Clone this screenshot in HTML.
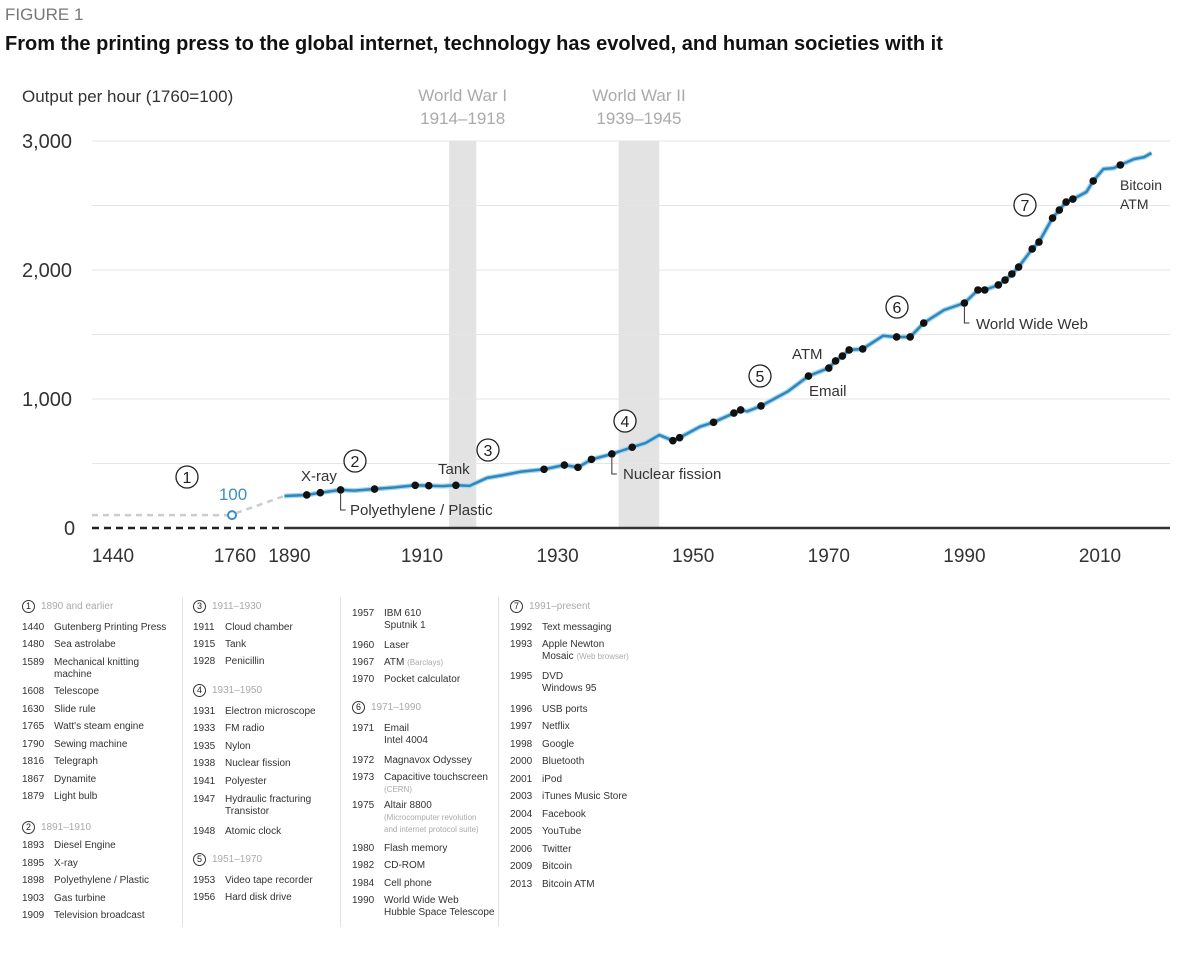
<!DOCTYPE html>
<html><head><meta charset="utf-8">
<style>
body{margin:0;background:#fff;font-family:"Liberation Sans",sans-serif;}
#wrap{position:relative;width:1200px;height:953px;overflow:hidden;background:#fff;}
.t{position:absolute;white-space:nowrap;}
.col{position:absolute;top:0;}
.r{position:absolute;font-size:10px;color:#333;white-space:nowrap;line-height:12px;}
.r .y{display:inline-block;width:32px;}
.r .n{position:absolute;left:32px;top:0;}
.g{color:#aaa;font-size:8px;}
.h{position:absolute;font-size:10px;color:#aaa;white-space:nowrap;line-height:14px;}
.h .c{display:inline-block;width:11px;height:11px;border:1px solid #333;border-radius:50%;color:#222;font-size:9px;text-align:center;line-height:11px;margin-right:6px;vertical-align:middle;}
.sep{position:absolute;width:1px;background:#e2e2e2;top:597px;height:330px;}
</style></head><body>
<div id="wrap">
<div class="t" style="left:5px;top:5px;font-size:17px;color:#777;">FIGURE 1</div>
<div class="t" style="left:5px;top:33px;font-size:20px;font-weight:bold;color:#111;">From the printing press to the global internet, technology has evolved, and human societies with it</div>
<svg id="chart" width="1200" height="590" style="position:absolute;left:0;top:0"></svg>

<div class="sep" style="left:182px"></div>
<div class="sep" style="left:340px"></div>
<div class="sep" style="left:498px"></div>

<div class="col" style="left:22px">
<div class="h" style="top:600px"><span class="c">1</span>1890 and earlier</div>
<div class="r" style="top:622px"><span class="y">1440</span><span class="n">Gutenberg Printing Press</span></div>
<div class="r" style="top:639px"><span class="y">1480</span><span class="n">Sea astrolabe</span></div>
<div class="r" style="top:657px"><span class="y">1589</span><span class="n">Mechanical knitting<br>machine</span></div>
<div class="r" style="top:686px"><span class="y">1608</span><span class="n">Telescope</span></div>
<div class="r" style="top:704px"><span class="y">1630</span><span class="n">Slide rule</span></div>
<div class="r" style="top:721px"><span class="y">1765</span><span class="n">Watt's steam engine</span></div>
<div class="r" style="top:739px"><span class="y">1790</span><span class="n">Sewing machine</span></div>
<div class="r" style="top:756px"><span class="y">1816</span><span class="n">Telegraph</span></div>
<div class="r" style="top:774px"><span class="y">1867</span><span class="n">Dynamite</span></div>
<div class="r" style="top:791px"><span class="y">1879</span><span class="n">Light bulb</span></div>
<div class="h" style="top:821px"><span class="c">2</span>1891–1910</div>
<div class="r" style="top:840px"><span class="y">1893</span><span class="n">Diesel Engine</span></div>
<div class="r" style="top:858px"><span class="y">1895</span><span class="n">X-ray</span></div>
<div class="r" style="top:875px"><span class="y">1898</span><span class="n">Polyethylene / Plastic</span></div>
<div class="r" style="top:893px"><span class="y">1903</span><span class="n">Gas turbine</span></div>
<div class="r" style="top:910px"><span class="y">1909</span><span class="n">Television broadcast</span></div>
</div>

<div class="col" style="left:193px">
<div class="h" style="top:600px"><span class="c">3</span>1911–1930</div>
<div class="r" style="top:622px"><span class="y">1911</span><span class="n">Cloud chamber</span></div>
<div class="r" style="top:639px"><span class="y">1915</span><span class="n">Tank</span></div>
<div class="r" style="top:656px"><span class="y">1928</span><span class="n">Penicillin</span></div>
<div class="h" style="top:684px"><span class="c">4</span>1931–1950</div>
<div class="r" style="top:706px"><span class="y">1931</span><span class="n">Electron microscope</span></div>
<div class="r" style="top:723px"><span class="y">1933</span><span class="n">FM radio</span></div>
<div class="r" style="top:741px"><span class="y">1935</span><span class="n">Nylon</span></div>
<div class="r" style="top:758px"><span class="y">1938</span><span class="n">Nuclear fission</span></div>
<div class="r" style="top:776px"><span class="y">1941</span><span class="n">Polyester</span></div>
<div class="r" style="top:794px"><span class="y">1947</span><span class="n">Hydraulic fracturing<br>Transistor</span></div>
<div class="r" style="top:826px"><span class="y">1948</span><span class="n">Atomic clock</span></div>
<div class="h" style="top:853px"><span class="c">5</span>1951–1970</div>
<div class="r" style="top:875px"><span class="y">1953</span><span class="n">Video tape recorder</span></div>
<div class="r" style="top:892px"><span class="y">1956</span><span class="n">Hard disk drive</span></div>
</div>

<div class="col" style="left:352px">
<div class="r" style="top:608px"><span class="y">1957</span><span class="n">IBM 610<br>Sputnik 1</span></div>
<div class="r" style="top:640px"><span class="y">1960</span><span class="n">Laser</span></div>
<div class="r" style="top:657px"><span class="y">1967</span><span class="n">ATM <span class="g">(Barclays)</span></span></div>
<div class="r" style="top:674px"><span class="y">1970</span><span class="n">Pocket calculator</span></div>
<div class="h" style="top:701px"><span class="c">6</span>1971–1990</div>
<div class="r" style="top:723px"><span class="y">1971</span><span class="n">Email<br>Intel 4004</span></div>
<div class="r" style="top:755px"><span class="y">1972</span><span class="n">Magnavox Odyssey</span></div>
<div class="r" style="top:772px"><span class="y">1973</span><span class="n">Capacitive touchscreen<br><span class="g">(CERN)</span></span></div>
<div class="r" style="top:800px"><span class="y">1975</span><span class="n">Altair 8800<br><span class="g">(Microcomputer revolution<br>and internet protocol suite)</span></span></div>
<div class="r" style="top:843px"><span class="y">1980</span><span class="n">Flash memory</span></div>
<div class="r" style="top:860px"><span class="y">1982</span><span class="n">CD-ROM</span></div>
<div class="r" style="top:878px"><span class="y">1984</span><span class="n">Cell phone</span></div>
<div class="r" style="top:895px"><span class="y">1990</span><span class="n">World Wide Web<br>Hubble Space Telescope</span></div>
</div>

<div class="col" style="left:510px">
<div class="h" style="top:600px"><span class="c">7</span>1991–present</div>
<div class="r" style="top:622px"><span class="y">1992</span><span class="n">Text messaging</span></div>
<div class="r" style="top:639px"><span class="y">1993</span><span class="n">Apple Newton<br>Mosaic <span class="g">(Web browser)</span></span></div>
<div class="r" style="top:671px"><span class="y">1995</span><span class="n">DVD<br>Windows 95</span></div>
<div class="r" style="top:704px"><span class="y">1996</span><span class="n">USB ports</span></div>
<div class="r" style="top:721px"><span class="y">1997</span><span class="n">Netflix</span></div>
<div class="r" style="top:739px"><span class="y">1998</span><span class="n">Google</span></div>
<div class="r" style="top:756px"><span class="y">2000</span><span class="n">Bluetooth</span></div>
<div class="r" style="top:774px"><span class="y">2001</span><span class="n">iPod</span></div>
<div class="r" style="top:791px"><span class="y">2003</span><span class="n">iTunes Music Store</span></div>
<div class="r" style="top:809px"><span class="y">2004</span><span class="n">Facebook</span></div>
<div class="r" style="top:826px"><span class="y">2005</span><span class="n">YouTube</span></div>
<div class="r" style="top:844px"><span class="y">2006</span><span class="n">Twitter</span></div>
<div class="r" style="top:861px"><span class="y">2009</span><span class="n">Bitcoin</span></div>
<div class="r" style="top:879px"><span class="y">2013</span><span class="n">Bitcoin ATM</span></div>
</div>
</div>

<script>
const lineYears=[1889.7,1893,1895,1898,1900,1903,1906,1909,1911,1913,1915,1917,1919.6,1922,1924.5,1928,1931,1933,1935,1938,1941,1943,1945,1947,1948,1951,1953,1956,1957,1958,1960,1964,1967,1970,1971,1972,1973,1975,1978,1980,1982,1984,1987,1990,1992,1993,1995,1996,1997,1998,2000,2001,2003,2004,2005,2006,2008,2009,2010.5,2012,2013,2015,2016.5,2017.6];
const lineValues=[248,256,274,295,290,302,315,331,328,325,331,326,388,410,436,455,488,470,532,574,626,660,721,677,700,785,819,891,915,905,946,1060,1178,1240,1295,1333,1380,1388,1490,1481,1481,1589,1690,1744,1845,1845,1884,1922,1969,2023,2163,2217,2403,2465,2527,2550,2605,2690,2783,2790,2814,2860,2875,2907];
const dotYears=[1893,1895,1898,1903,1909,1911,1915,1928,1931,1933,1935,1938,1941,1947,1948,1953,1956,1957,1960,1967,1970,1971,1972,1973,1975,1980,1982,1984,1990,1992,1993,1995,1996,1997,1998,2000,2001,2003,2004,2005,2006,2009,2013];
const yTicks=[0,1000,2000,3000];
const yTickLabels=["0","1,000","2,000","3,000"];
const gridValues=[500,1000,1500,2000,2500,3000];
const xTicks=[1440,1760,1890,1910,1930,1950,1970,1990,2010];
const earlyYears=[1440,1760];
const earlyValue=100;
const wars=[[1914,1918,"World War I","1914–1918"],[1939,1945,"World War II","1939–1945"]];

function x(yr){ if(yr<1888) return 110+(yr-1440)*(232-110)/320; return 422+(yr-1910)*6.78; }
function y(v){ return 528-v*0.129; }
function interp(yr){ for(let i=0;i<lineYears.length-1;i++){ if(yr>=lineYears[i]&&yr<=lineYears[i+1]){ const t=(yr-lineYears[i])/(lineYears[i+1]-lineYears[i]); return lineValues[i]+t*(lineValues[i+1]-lineValues[i]); } } return lineValues[lineValues.length-1]; }
const svg=document.getElementById('chart'); const NS='http://www.w3.org/2000/svg';
function mk(tag,attrs,txt){ const e=document.createElementNS(NS,tag); for(const k in attrs) e.setAttribute(k,attrs[k]); if(txt!==undefined) e.textContent=txt; svg.appendChild(e); return e; }

wars.forEach(w=>{
 const r=mk('rect',{x:x(w[0]),y:141,width:x(w[1])-x(w[0]),height:387,fill:'#e3e3e3'});
 
 
 const cx=(x(w[0])+x(w[1]))/2;
 const t1=mk('text',{x:cx,y:101,'text-anchor':'middle','font-size':17,fill:'#aaa'},w[2]);
 
 
 const t2=mk('text',{x:cx,y:124,'text-anchor':'middle','font-size':17,fill:'#aaa'},w[3]);
 
 
});
gridValues.forEach(v=>{
 const l=mk('line',{x1:92,x2:1170,y1:y(v),y2:y(v),stroke:'#e6e6e6','stroke-width':1});
 
 
});
yTicks.forEach((v,i)=>{
 const t=mk('text',{x:v===0?64:22,y:y(v)+7,'font-size':20,fill:'#333'},yTickLabels[i]);
 
 
});
const yt=mk('text',{x:22,y:102,'font-size':17,fill:'#333'},'Output per hour (1760=100)');


xTicks.forEach(v=>{
 const t=mk('text',{x:x(v)+(v===1890?3:0)+(v<1800?3:0),y:562,'text-anchor':'middle','font-size':19,fill:'#333'},String(v));
 
 
});
const ad=mk('line',{x1:92,x2:x(lineYears[0]),y1:y(0),y2:y(0),stroke:'#222','stroke-width':2.5,'stroke-dasharray':'7,5'});


const as=mk('line',{x1:x(lineYears[0]),x2:1170,y1:y(0),y2:y(0),stroke:'#333','stroke-width':2.5});


const ed=mk('line',{x1:92,x2:x(earlyYears[1])-4,y1:y(earlyValue),y2:y(earlyValue),stroke:'#ccc','stroke-width':2.5,'stroke-dasharray':'6,5'});


const ed2=mk('line',{x1:x(earlyYears[1])+4,y1:y(earlyValue)-2,x2:x(lineYears[0]),y2:y(lineValues[0]),stroke:'#ccc','stroke-width':2.5,'stroke-dasharray':'6,5'});


const ec=mk('circle',{cx:x(earlyYears[1]),cy:y(earlyValue),r:4,fill:'#fff',stroke:'#3a8fbf','stroke-width':2});


const el=mk('text',{x:x(earlyYears[1])+1,y:500,'text-anchor':'middle','font-size':17,fill:'#3a8fbf'},String(earlyValue));



const pts=lineYears.map((yr,i)=>x(yr).toFixed(1)+','+y(lineValues[i]).toFixed(1)).join(' ');
const glow=mk('polyline',{points:pts,fill:'none',stroke:'#a9d6f0','stroke-width':5,'stroke-linejoin':'round'});


const pl=mk('polyline',{points:pts,fill:'none',stroke:'#2f86b8','stroke-width':2.5,'stroke-linejoin':'round'});


dotYears.forEach(yr=>{
 const c=mk('circle',{cx:x(yr),cy:y(interp(yr)),r:3.8,fill:'#111'});
 
 
});
function ann(tx,ty,s,size,name){ const t=mk('text',{x:tx,y:ty,'font-size':size||15,fill:'#333'},s);   return t; }
ann(301,481,'X-ray',15,'annotation-xray');
ann(438,474,'Tank',15,'annotation-tank');
ann(350,515,'Polyethylene / Plastic',15,'annotation-plastic');
ann(623,479,'Nuclear fission',15,'annotation-fission');
ann(792,359,'ATM',15,'annotation-atm');
ann(809,396,'Email',15,'annotation-email');
ann(976,329,'World Wide Web',15,'annotation-www');
ann(1120,190,'Bitcoin',14,'annotation-bitcoin');
ann(1120,209,'ATM',14,'annotation-bitcoin-atm');
function bracket(yr,len,name){ const bx=x(yr), by=y(interp(yr)); const p=mk('path',{d:`M${bx} ${by+4}V${by+len}h5`,fill:'none',stroke:'#333','stroke-width':1});   }
bracket(1898,20,'leader-plastic');
bracket(1938,20,'leader-fission');
bracket(1990,20,'leader-www');
const circles=[[187,477,'1'],[355,461,'2'],[488,450,'3'],[625,421,'4'],[760,376,'5'],[897,307,'6'],[1025,205,'7']];
circles.forEach(c=>{
 const cc=mk('circle',{cx:c[0],cy:c[1],r:11,fill:'#fff',stroke:'#222','stroke-width':1.3});
 
 
 const ct=mk('text',{x:c[0],y:c[1]+6,'text-anchor':'middle','font-size':16,fill:'#222'},c[2]);
 
 
});
</script>
</body></html>
